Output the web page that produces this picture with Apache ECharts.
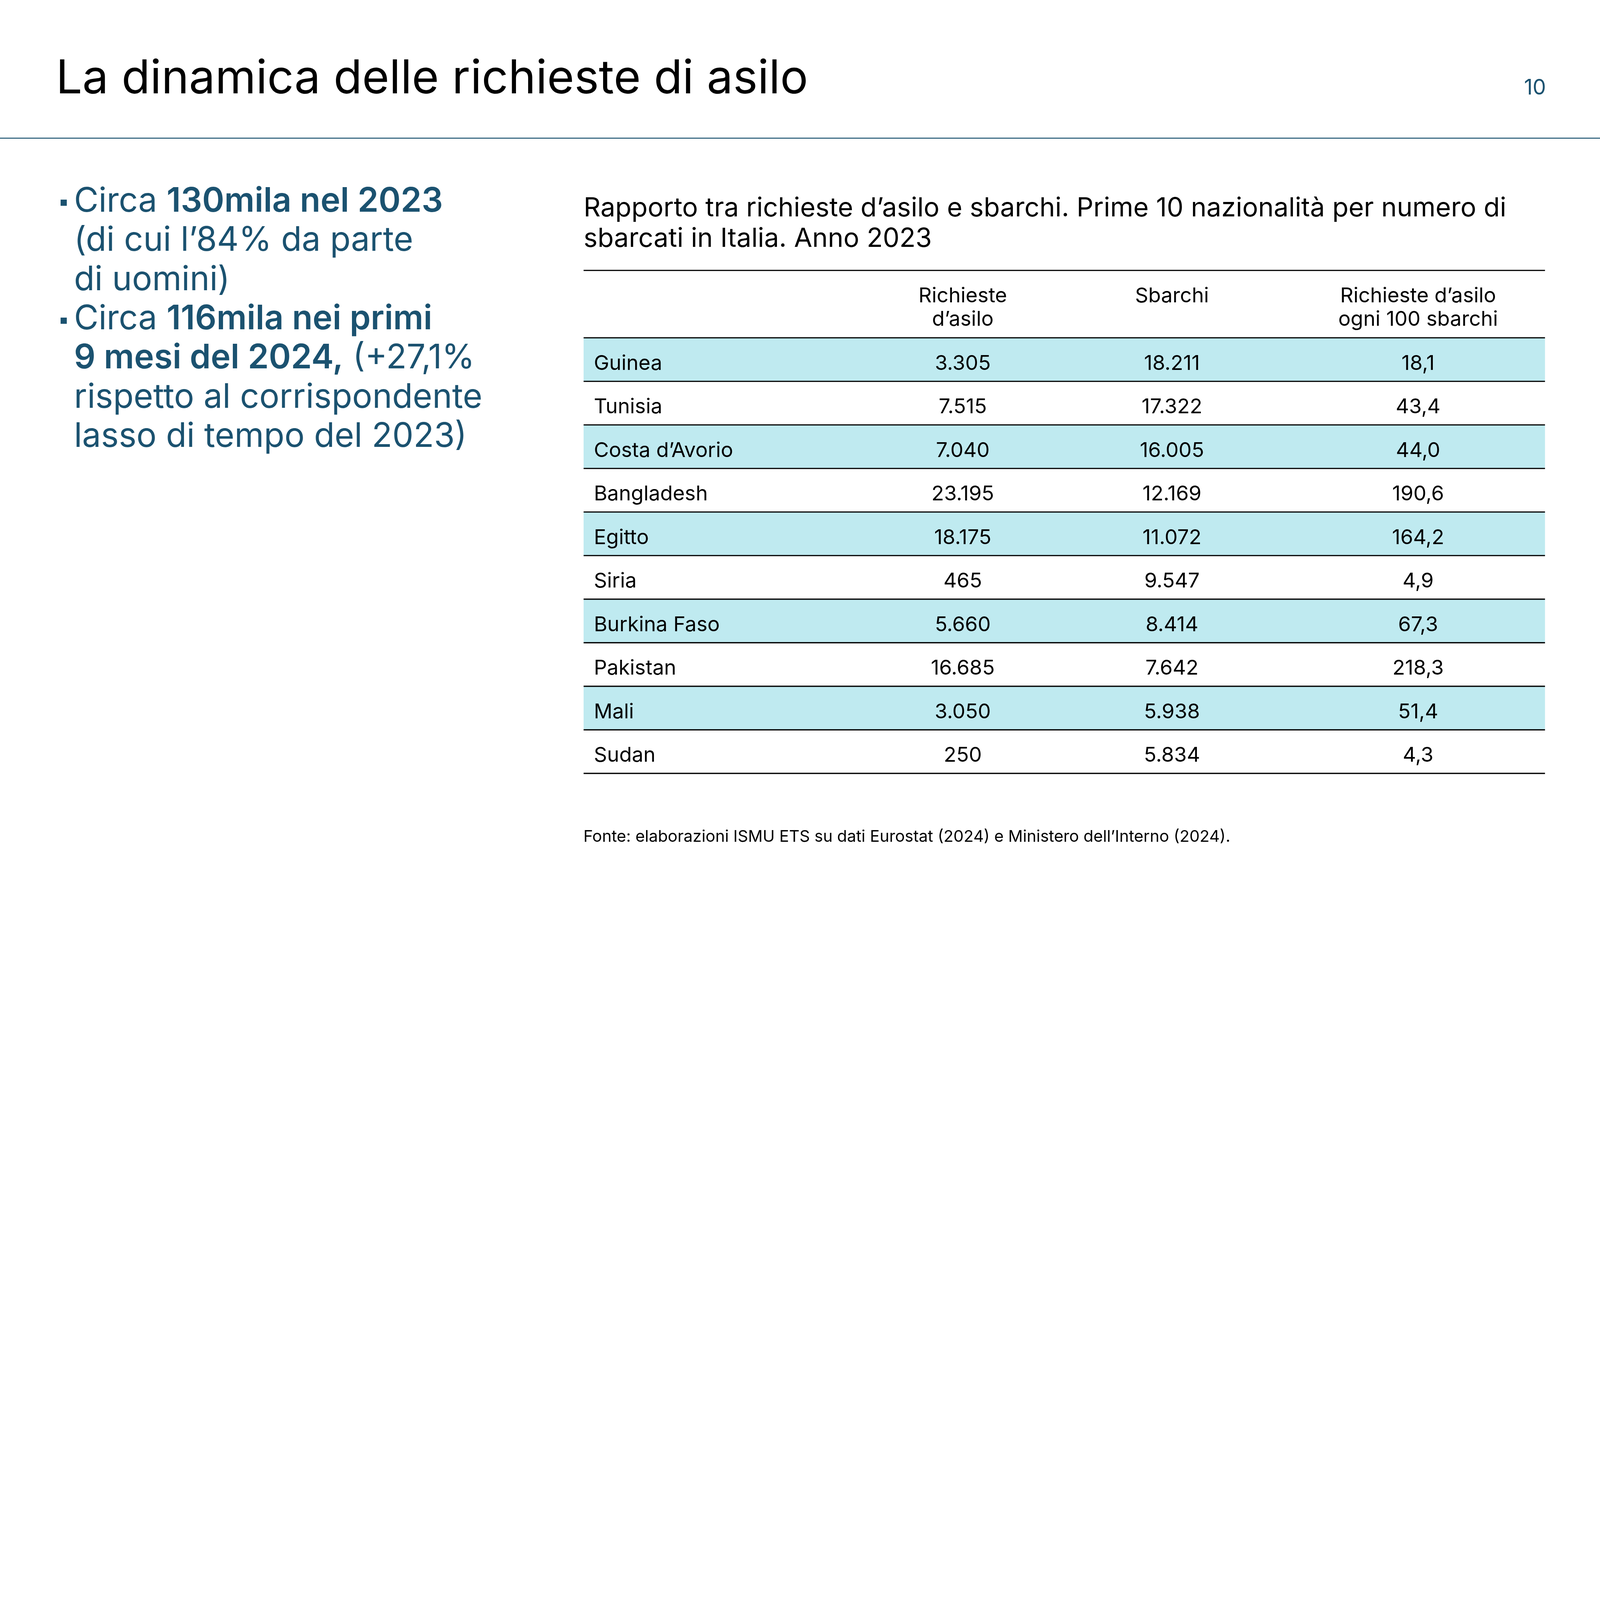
<!DOCTYPE html>
<html>
<head>
<meta charset="utf-8">
<script src="https://cdn.jsdelivr.net/npm/echarts@6/dist/echarts.min.js"></script>
<style>
html,body{margin:0;padding:0;background:#fff;overflow:hidden;}
#chart{position:absolute;left:0;top:0;}
</style>
</head>
<body>
<div id="chart"></div>
<script>
// ---- data ----
const countries = ['Guinea', 'Tunisia', 'Costa d’Avorio', 'Bangladesh', 'Egitto', 'Siria', 'Burkina Faso', 'Pakistan', 'Mali', 'Sudan'];
const asylumRequests = [3305, 7515, 7040, 23195, 18175, 465, 5660, 16685, 3050, 250];
const landings = [18211, 17322, 16005, 12169, 11072, 9547, 8414, 7642, 5938, 5834];
const requestsPer100Landings = [18.1, 43.4, 44.0, 190.6, 164.2, 4.9, 67.3, 218.3, 51.4, 4.3];
const columnHeaders = ['Richieste\nd’asilo', 'Sbarchi', 'Richieste d’asilo\nogni 100 sbarchi'];

const pageTitle = 'La dinamica delle richieste di asilo';
const pageNumber = '10';
const tableTitle = 'Rapporto tra richieste d’asilo e sbarchi. Prime 10 nazionalità per numero di\nsbarcati in Italia. Anno 2023';
const sourceNote = 'Fonte: elaborazioni ISMU ETS su dati Eurostat (2024) e Ministero dell’Interno (2024).';
const bulletLines = [
  'Circa {b|130mila nel 2023}',
  '(di cui l’84% da parte',
  'di uomini)',
  'Circa {b|116mila nei primi}',
  '{b|9 mesi del 2024,} (+27,1%',
  'rispetto al corrispondente',
  'lasso di tempo del 2023)'
];

// ---- helpers ----
const FONT = 'Inter, "Noto Sans", sans-serif';
const BLUE = '#1b5270';
const CYAN = '#bfeaf0';
function fmtInt(n) { return String(n).replace(/\B(?=(\d{3})+(?!\d))/g, '.'); }
function fmtDec(n) { return n.toFixed(1).replace('.', ','); }

// scale the 8000x4500 design to whatever viewport we get
const VW = window.innerWidth || 8000, VH = window.innerHeight || 4500;
const s = Math.min(VW / 8000, VH / 4500);
const P = v => v * s;
const F = (w, px) => w + ' ' + P(px) + 'px ' + FONT;

const el = document.getElementById('chart');
el.style.width = P(8000) + 'px';
el.style.height = P(4500) + 'px';

const colPos = [0.3944, 0.612, 0.868]; // column centres as fraction of table width

const chart = echarts.init(el, null, {renderer: 'canvas'});

function renderRow(params, api) {
  const i = params.dataIndex;
  const cs = params.coordSys;
  const yc = api.coord([0, i])[1];
  const bh = api.size([0, 1])[1];
  const top = yc - bh / 2;
  const bottom = yc + bh / 2;
  const ty = yc + P(20);
  const lw = P(6);
  const children = [];
  if (i % 2 === 0) {
    children.push({type: 'rect', z2: 0, shape: {x: cs.x, y: top, width: cs.width, height: bh}, style: {fill: CYAN}});
  }
  children.push({type: 'line', z2: 10, shape: {x1: cs.x, y1: bottom, x2: cs.x + cs.width, y2: bottom}, style: {stroke: '#000', lineWidth: lw}});
  if (i === 0) {
    children.push({type: 'line', z2: 10, shape: {x1: cs.x, y1: top, x2: cs.x + cs.width, y2: top}, style: {stroke: '#000', lineWidth: lw}});
    children.push({type: 'line', z2: 10, shape: {x1: cs.x, y1: top - P(337), x2: cs.x + cs.width, y2: top - P(337)}, style: {stroke: '#000', lineWidth: lw}});
    columnHeaders.forEach((h, j) => {
      children.push({type: 'text', z2: 20, style: {
        text: h, x: api.coord([colPos[j], 0])[0], y: top - P(268),
        align: 'center', verticalAlign: 'top', lineHeight: P(118),
        font: F(400, 103), fill: '#000'
      }});
    });
  }
  children.push({type: 'text', z2: 20, style: {text: countries[i], x: cs.x + P(51), y: ty, align: 'left', verticalAlign: 'middle', font: F(400, 103), fill: '#000'}});
  const cells = [fmtInt(asylumRequests[i]), fmtInt(landings[i]), fmtDec(requestsPer100Landings[i])];
  cells.forEach((t, j) => {
    children.push({type: 'text', z2: 20, style: {text: t, x: api.coord([colPos[j], i])[0], y: ty, align: 'center', verticalAlign: 'middle', font: F(400, 103), fill: '#000'}});
  });
  return {type: 'group', children: children};
}

const option = {
  backgroundColor: '#ffffff',
  animation: false,
  grid: {left: P(2918), right: P(275), top: P(1689), height: P(2178), containLabel: false},
  xAxis: {type: 'value', min: 0, max: 1, show: false},
  yAxis: {type: 'category', data: countries, inverse: true, show: false},
  series: [{
    type: 'custom',
    renderItem: renderRow,
    data: countries.map((c, i) => [0, i]),
    encode: {x: 0, y: 1},
    clip: false,
    silent: true
  }],
  graphic: [
    {type: 'text', style: {text: pageTitle, x: P(280), y: P(397), verticalAlign: 'middle', font: F(400, 233), fill: '#000'}},
    {type: 'text', style: {text: pageNumber, x: P(7730), y: P(440), align: 'right', verticalAlign: 'middle', font: F(400, 106), fill: BLUE}},
    {type: 'line', shape: {x1: 0, y1: P(691), x2: P(8000), y2: P(691)}, style: {stroke: BLUE, lineWidth: P(5)}},
    {type: 'rect', shape: {x: P(303), y: P(998), width: P(31), height: P(31)}, style: {fill: BLUE}},
    {type: 'rect', shape: {x: P(303), y: P(1588), width: P(31), height: P(31)}, style: {fill: BLUE}},
    {type: 'text', style: {
      text: bulletLines.join('\n'), x: P(370), y: P(910), verticalAlign: 'top', lineHeight: P(196),
      fontSize: P(168), fontFamily: FONT, fontWeight: 400, fill: BLUE,
      rich: {b: {fontSize: P(168), fontFamily: FONT, fontWeight: 600, fill: BLUE, lineHeight: P(196)}}
    }},
    {type: 'text', style: {text: tableTitle, x: P(2918), y: P(1041 - 76), verticalAlign: 'top', lineHeight: P(153), font: F(400, 132), fill: '#000'}},
    {type: 'text', style: {text: sourceNote, x: P(2917), y: P(4184), verticalAlign: 'middle', font: F(400, 81), fill: '#000'}}
  ]
};
chart.setOption(option);
</script>
</body>
</html>
